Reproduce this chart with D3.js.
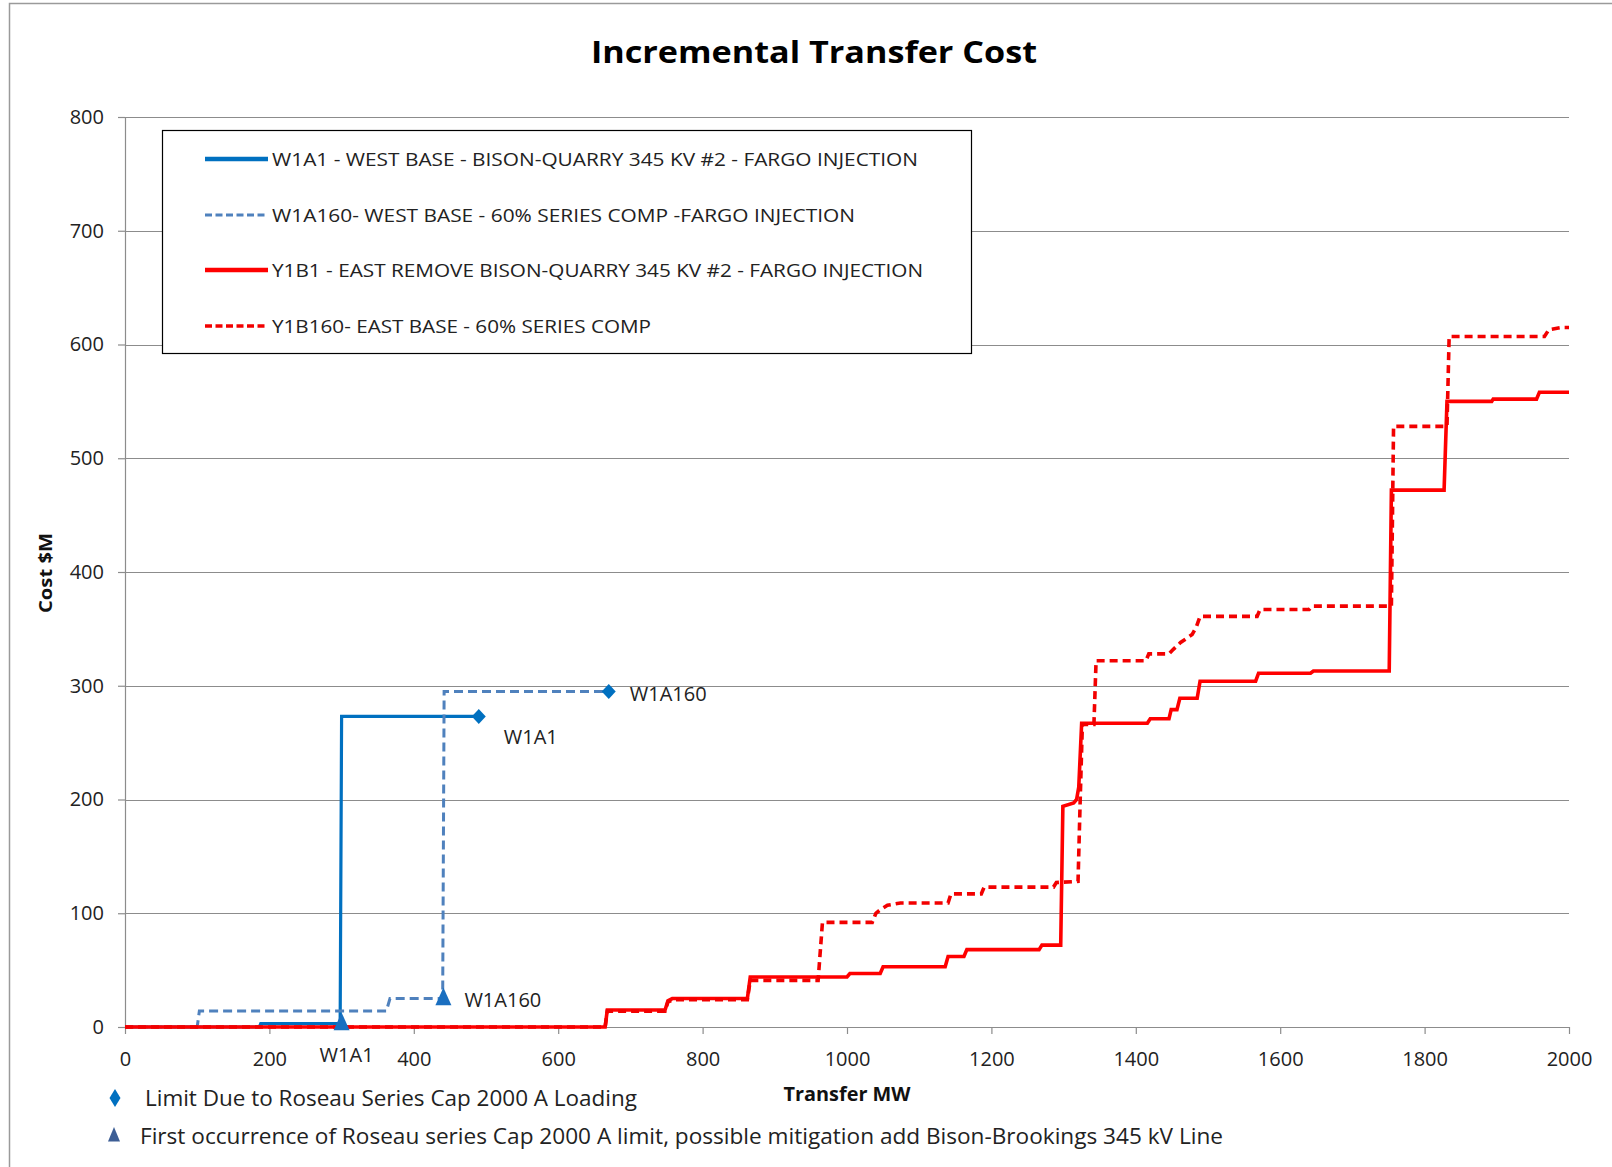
<!DOCTYPE html>
<html>
<head>
<meta charset="utf-8">
<script src="https://cdn.jsdelivr.net/npm/d3@7"></script>
<style>
  html, body { margin: 0; padding: 0; background: #fff; }
  svg { display: block; }
  text { font-family: "Open Sans", "DejaVu Sans", sans-serif; }
</style>
</head>
<body>
<script>
// ---------------- DATA ----------------
const chartTitle = "Incremental Transfer Cost";
const xAxisTitle = "Transfer MW";
const yAxisTitle = "Cost $M";
const xTicks = [0, 200, 400, 600, 800, 1000, 1200, 1400, 1600, 1800, 2000];
const yTicks = [0, 100, 200, 300, 400, 500, 600, 700, 800];

// [Transfer MW, Cost $M]
const w1a1 = [[0,0],[186,0],[188,3],[298,3],[300,273],[490,273]];
const w1a160 = [[0,0],[100,0],[103,14],[362,14],[367,25],[440,25],[442,295],[670,295]];
const y1b1 = [[0,0],[665,0],[668,15],[748,15],[752,23],[758,25],[862,25],[866,44],[1000,44],[1004,47],
  [1046,47],[1050,53],[1136,53],[1140,62],[1162,62],[1166,68],[1266,68],[1270,72],[1296,72],[1299,194],
  [1314,197],[1318,200],[1321,211],[1325,267],[1416,267],[1420,271],[1446,271],[1449,279],[1457,279],
  [1461,289],[1485,289],[1489,304],[1566,304],[1570,311],[1642,311],[1646,313],[1751,313],[1754,472],
  [1827,472],[1831,550],[1893,550],[1895,552],[1955,552],[1959,558],[2000,558]];
const y1b160 = [[0,0],[665,0],[668,14],[748,14],[752,22],[760,24],[862,24],[866,41],[960,41],[966,92],
  [1035,92],[1040,100],[1046,103],[1056,107],[1074,109],[1140,109],[1144,117],[1186,117],[1190,123],
  [1286,123],[1290,127],[1320,128],[1323,200],[1326,266],[1342,266],[1345,322],[1414,322],[1418,328],
  [1446,328],[1452,332],[1462,338],[1478,345],[1484,352],[1489,361],[1568,361],[1572,367],[1640,367],
  [1644,370],[1754,370],[1757,528],[1831,528],[1834,607],[1966,607],[1972,613],[1990,615],[2000,615]];

const seriesNames = [
  "W1A1 - WEST BASE - BISON-QUARRY 345 KV #2 - FARGO INJECTION",
  "W1A160- WEST BASE - 60% SERIES COMP -FARGO INJECTION",
  "Y1B1 - EAST REMOVE BISON-QUARRY 345 KV #2 - FARGO INJECTION",
  "Y1B160- EAST BASE - 60% SERIES COMP"
];

// limit markers: [x, y, label]
const diamondPoints = [[490, 273, "W1A1"], [670, 295, "W1A160"]];
const trianglePoints = [[300, 3, "W1A1"], [441, 25, "W1A160"]];

const noteDiamond = "Limit Due to Roseau Series Cap 2000 A Loading";
const noteTriangle = "First occurrence of Roseau series Cap 2000 A limit, possible mitigation add Bison-Brookings 345 kV Line";

// ---------------- LAYOUT / STYLE ----------------
const W = 1612, H = 1167;
const plotL = 125, plotR = 1569, plotT = 117, plotB = 1027;
const styles = [
  {color: "#0070C0", width: 3.2, dash: null, legendWidth: 4.5, legendDash: null},
  {color: "#4F81BD", width: 3, dash: "9,5", legendWidth: 3.2, legendDash: "7,3.5"},
  {color: "#FF0000", width: 3.6, dash: null, legendWidth: 4.5, legendDash: null},
  {color: "#F20000", width: 3.6, dash: "8,5", legendWidth: 3.5, legendDash: "7,3.5"}
];
const seriesData = [w1a1, w1a160, y1b1, y1b160];

const svg = d3.select("body").append("svg").attr("width", W).attr("height", H);
svg.append("rect").attr("width", W).attr("height", H).attr("fill", "#fff");

// outer frame (left & top visible)
svg.append("rect").attr("x", 9.5).attr("y", 3.5).attr("width", W + 50).attr("height", H + 50)
  .attr("fill", "none").attr("stroke", "#9a9a9a").attr("stroke-width", 1.5);

const x = d3.scaleLinear().domain([0, 2000]).range([plotL, plotR]);
const y = d3.scaleLinear().domain([0, 800]).range([plotB, plotT]);

// title
svg.append("text").attr("x", 814).attr("y", 63).attr("text-anchor", "middle")
  .attr("font-size", 31).attr("font-weight", "bold").attr("fill", "#000")
  .attr("textLength", 446).attr("lengthAdjust", "spacingAndGlyphs").text(chartTitle);

// gridlines
svg.append("g").selectAll("line").data(yTicks.filter(d => d > 0)).join("line")
  .attr("x1", plotL).attr("x2", plotR)
  .attr("y1", d => Math.round(y(d)) + 0.5).attr("y2", d => Math.round(y(d)) + 0.5)
  .attr("stroke", "#8c8c8c").attr("stroke-width", 1.2);

// y axis
const yAxis = svg.append("g").attr("transform", `translate(${plotL},0)`)
  .call(d3.axisLeft(y).tickValues(yTicks).tickFormat(d3.format("d")).tickSizeInner(7).tickSizeOuter(0).tickPadding(14));
yAxis.select(".domain").attr("stroke", "#8c8c8c").attr("stroke-width", 1.2);
yAxis.selectAll(".tick line").attr("stroke", "#8c8c8c").attr("stroke-width", 1.2);
yAxis.selectAll(".tick text").attr("font-size", 20).attr("fill", "#222")
  .style("font-family", "'Open Sans', sans-serif");

// x axis
const xAxis = svg.append("g").attr("transform", `translate(0,${plotB})`)
  .call(d3.axisBottom(x).tickValues(xTicks).tickFormat(d3.format("d")).tickSizeInner(7).tickSizeOuter(0).tickPadding(18));
xAxis.select(".domain").attr("stroke", "#8c8c8c").attr("stroke-width", 1.2);
xAxis.selectAll(".tick line").attr("stroke", "#8c8c8c").attr("stroke-width", 1.2);
xAxis.selectAll(".tick text").attr("font-size", 20).attr("fill", "#222")
  .style("font-family", "'Open Sans', sans-serif");

// axis titles
svg.append("text").attr("x", 847).attr("y", 1101).attr("text-anchor", "middle")
  .attr("font-size", 19).attr("font-weight", "bold").attr("fill", "#111")
  .attr("textLength", 127).attr("lengthAdjust", "spacingAndGlyphs").text(xAxisTitle);
svg.append("text").attr("transform", "translate(52,573) rotate(-90)").attr("text-anchor", "middle")
  .attr("font-size", 18).attr("font-weight", "bold").attr("fill", "#111")
  .attr("textLength", 80).attr("lengthAdjust", "spacingAndGlyphs").text(yAxisTitle);

// lines
const line = d3.line().x(d => x(d[0])).y(d => y(d[1]));
const gLines = svg.append("g");
seriesData.forEach((data, i) => {
  gLines.append("path").datum(data).attr("d", line)
    .attr("fill", "none").attr("stroke", styles[i].color).attr("stroke-width", styles[i].width)
    .attr("stroke-dasharray", styles[i].dash).attr("stroke-linejoin", "miter");
});

// markers
const diamondPath = (cx, cy, hw, hh) => `M${cx},${cy - hh}L${cx + hw},${cy}L${cx},${cy + hh}L${cx - hw},${cy}Z`;
const trianglePath = (cx, cy, hw, hh) => `M${cx},${cy - hh}L${cx + hw},${cy + hh * 0.6}L${cx - hw},${cy + hh * 0.6}Z`;

svg.append("g").selectAll("path").data(diamondPoints).join("path")
  .attr("d", d => diamondPath(x(d[0]), y(d[1]), 7, 7.5)).attr("fill", "#0070C0");
svg.append("g").selectAll("path").data(trianglePoints).join("path")
  .attr("d", d => trianglePath(x(d[0]), y(d[1]), 8, 11)).attr("fill", "#1A6FC0");

// data labels
const labelFont = 20;
svg.append("text").attr("x", x(diamondPoints[0][0]) + 25).attr("y", y(diamondPoints[0][1]) + 28)
  .attr("font-size", labelFont).attr("fill", "#222").text(diamondPoints[0][2]);
svg.append("text").attr("x", x(diamondPoints[1][0]) + 21).attr("y", y(diamondPoints[1][1]) + 10)
  .attr("font-size", labelFont).attr("fill", "#222").text(diamondPoints[1][2]);
svg.append("text").attr("x", x(trianglePoints[0][0]) + 5).attr("y", y(trianglePoints[0][1]) + 38)
  .attr("text-anchor", "middle").attr("font-size", labelFont).attr("fill", "#222").text(trianglePoints[0][2]);
svg.append("text").attr("x", x(trianglePoints[1][0]) + 21).attr("y", y(trianglePoints[1][1]) + 8)
  .attr("font-size", labelFont).attr("fill", "#222").text(trianglePoints[1][2]);

// legend
const lg = svg.append("g");
lg.append("rect").attr("x", 162.5).attr("y", 130.5).attr("width", 809).attr("height", 223)
  .attr("fill", "#fff").attr("stroke", "#000").attr("stroke-width", 1.2);
const legendRows = [159, 215, 270, 326];
const legendWidths = [646, 583, 651, 379];
seriesNames.forEach((name, i) => {
  lg.append("line").attr("x1", 205).attr("x2", 268).attr("y1", legendRows[i]).attr("y2", legendRows[i])
    .attr("stroke", styles[i].color).attr("stroke-width", styles[i].legendWidth)
    .attr("stroke-dasharray", styles[i].legendDash);
  lg.append("text").attr("x", 272).attr("y", legendRows[i] + 7).attr("font-size", 19).attr("fill", "#222")
    .attr("textLength", legendWidths[i]).attr("lengthAdjust", "spacingAndGlyphs").text(name);
});

// notes under chart
svg.append("path").attr("d", diamondPath(115, 1098, 5.5, 9)).attr("fill", "#0070C0");
svg.append("text").attr("x", 145).attr("y", 1106).attr("font-size", 21).attr("fill", "#222")
  .attr("textLength", 492).attr("lengthAdjust", "spacingAndGlyphs").text(noteDiamond);
svg.append("path").attr("d", trianglePath(114, 1136, 6, 9)).attr("fill", "#3D5E95");
svg.append("text").attr("x", 140).attr("y", 1144).attr("font-size", 21).attr("fill", "#222")
  .attr("textLength", 1083).attr("lengthAdjust", "spacingAndGlyphs").text(noteTriangle);
</script>
</body>
</html>
